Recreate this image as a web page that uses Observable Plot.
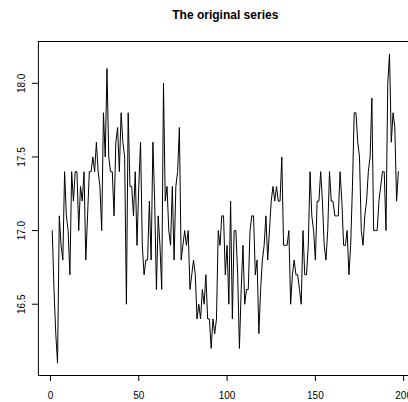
<!DOCTYPE html>
<html>
<head>
<meta charset="utf-8">
<script src="https://cdn.jsdelivr.net/npm/d3@7"></script>
<script src="https://cdn.jsdelivr.net/npm/@observablehq/plot@0.6"></script>
<style>
  html, body { margin: 0; padding: 0; background: white; overflow: hidden; }
</style>
</head>
<body>
<div id="chart"></div>
<script>
const title = "The original series";
const values = [
  17, 16.6, 16.3, 16.1, 17.1, 16.9, 16.8, 17.4, 17.1, 17,
  16.7, 17.4, 17.2, 17.4, 17.4, 17, 17.3, 17.2, 17.4, 16.8,
  17.1, 17.4, 17.4, 17.5, 17.4, 17.6, 17.4, 17.3, 17, 17.8,
  17.5, 18.1, 17.5, 17.4, 17.4, 17.1, 17.6, 17.7, 17.4, 17.8,
  17.6, 17.5, 16.5, 17.8, 17.3, 17.3, 17.1, 17.4, 16.9, 17.3,
  17.6, 16.9, 16.7, 16.8, 16.8, 17.2, 16.8, 17.6, 17.2, 16.6,
  17.1, 16.9, 16.6, 18, 17.2, 17.3, 17, 16.9, 17.3, 16.8,
  17.3, 17.4, 17.7, 16.8, 16.9, 17, 16.9, 17, 16.6, 16.7,
  16.8, 16.7, 16.4, 16.5, 16.4, 16.6, 16.5, 16.7, 16.4, 16.4,
  16.2, 16.4, 16.3, 16.4, 17, 16.9, 17.1, 17.1, 16.7, 16.9,
  16.5, 17.2, 16.4, 17, 17, 16.7, 16.2, 16.6, 16.9, 16.5,
  16.6, 16.6, 17, 17.1, 17.1, 16.7, 16.8, 16.3, 16.6, 16.8,
  16.9, 17.1, 16.8, 17, 17.2, 17.3, 17.2, 17.3, 17.2, 17.2,
  17.5, 16.9, 16.9, 16.9, 17, 16.5, 16.7, 16.8, 16.7, 16.7,
  16.6, 16.5, 17, 16.7, 16.7, 16.9, 17.4, 17.1, 17, 16.8,
  17.2, 17.2, 17.4, 17.2, 16.9, 16.8, 17, 17.4, 17.2, 17.2,
  17.1, 17.1, 17.1, 17.4, 17.2, 16.9, 16.9, 17, 16.7, 16.9,
  17.3, 17.8, 17.8, 17.6, 17.5, 17, 16.9, 17.1, 17.2, 17.4,
  17.5, 17.9, 17, 17, 17, 17.2, 17.3, 17.4, 17.4, 17,
  18, 18.2, 17.6, 17.8, 17.7, 17.2, 17.4
];
const xTicks = [0, 50, 100, 150, 200];
const yTicks = [16.5, 17.0, 17.5, 18.0];

const data = values.map((v, i) => ({t: i + 1, v}));
const n = values.length;
const xPad = (n - 1) * 0.04;
const yMin = d3.min(values), yMax = d3.max(values);
const yPad = (yMax - yMin) * 0.04;

const font = "'Liberation Sans', Arial, Helvetica, sans-serif";

const chart = Plot.plot({
  width: 408,
  height: 402,
  marginLeft: 37.9,
  marginRight: -3.7,
  marginTop: 41,
  marginBottom: 27,
  style: {fontFamily: font, background: "white", color: "black"},
  x: {domain: [1 - xPad, n + xPad], axis: null, label: null},
  y: {domain: [yMin - yPad, yMax + yPad], axis: null, label: null},
  marks: [
    Plot.line(data, {x: "t", y: "v", stroke: "black", strokeWidth: 1}),
    Plot.frame({stroke: "black", strokeWidth: 1}),
    Plot.axisX(xTicks, {anchor: "bottom", tickSize: 6, stroke: "black", tickFormat: () => "", label: null}),
    Plot.axisY(yTicks, {anchor: "left", tickSize: 6, stroke: "black", tickFormat: () => "", label: null}),
    Plot.text(xTicks, {x: d => d, frameAnchor: "bottom", dy: 20, lineAnchor: "middle", textAnchor: "middle", fontSize: 10, fill: "black", text: d => String(d)}),
    Plot.text(yTicks, {y: d => d, frameAnchor: "left", dx: -16.4, rotate: -90, lineAnchor: "middle", textAnchor: "middle", fontSize: 10, fill: "black", text: d => d.toFixed(1)}),
    Plot.text([title], {frameAnchor: "top", dy: -26, lineAnchor: "middle", textAnchor: "middle", fontSize: 12, fontWeight: "bold", fill: "black"})
  ]
});
document.getElementById("chart").appendChild(chart);
</script>
</body>
</html>
